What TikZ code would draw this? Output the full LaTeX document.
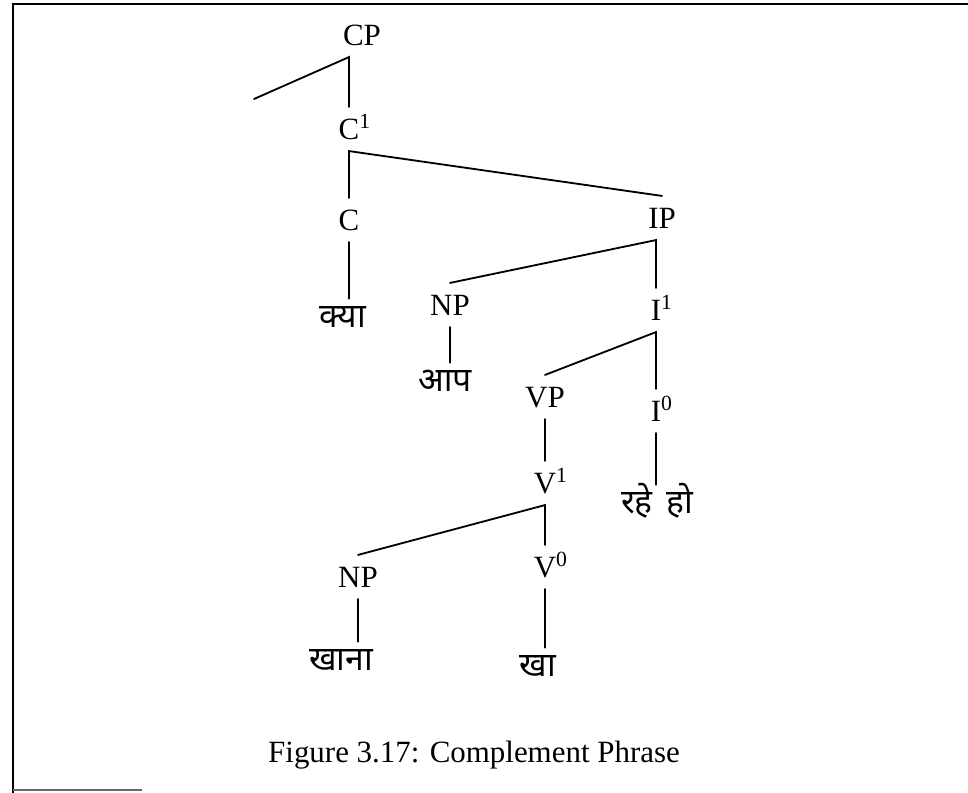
\documentclass[tikz,border=0pt]{standalone}
\usepackage{fontspec}
\setmainfont{Liberation Serif}
\newfontfamily\hindi[Script=Devanagari]{Noto Sans}
\begin{document}
\begin{tikzpicture}[
    x=0.025cm, y=-0.025cm,
    cat/.style={inner xsep=0pt, inner ysep=8pt, text height=15pt, text depth=0pt, font=\fontsize{22}{26}\selectfont},
    word/.style={inner xsep=0pt, inner ysep=5pt, text height=15pt, text depth=5pt, font=\fontsize{24}{28}\selectfont\hindi},
    branch/.style={line width=1.3pt, line cap=round},
    frame/.style={line width=2pt}
]
\useasboundingbox (0,0) rectangle (968,793);

% Frame
\draw[frame] (968,4) -- (13,4) -- (13,793);
\draw[line width=0.8pt, black!60] (13,790) -- (142,790);

% Nodes
\node[cat]  (cp)    at (362,35)  {CP};
\coordinate (spec)  at (254,99);
\node[cat]  (c1)    at (349,129) {C\rlap{\textsuperscript{1}}};
\node[cat]  (c)     at (349,220) {C};
\node[word] (kya)   at (343,320) {क्या};

\node[cat]  (ip)    at (662,218) {IP};
\node[cat]  (np)    at (450,305) {NP};
\node[word] (aap)   at (445,384) {आप};
\node[cat]  (i1)    at (656,310) {I\rlap{\textsuperscript{1}}};
\node[cat]  (i0)    at (656,411) {I\rlap{\textsuperscript{0}}};
\node[word] (rahe)  at (657,506) {रहे\hspace{0.4em}हो};

\node[cat]  (vp)    at (545,397) {VP};
\node[cat]  (v1)    at (545,483) {V\rlap{\textsuperscript{1}}};
\node[cat]  (v0)    at (545,567) {V\rlap{\textsuperscript{0}}};
\node[cat]  (np2)   at (358,577) {NP};
\node[word] (khana) at (341,663) {खाना};
\node[word] (kha)   at (538,669) {खा};

\node[font=\fontsize{22}{26}\selectfont] (caption) at (474,755) {Figure 3.17: Complement Phrase};

% Branches
\draw[branch] (spec) -- (cp.south -| c1) -- (c1.north);
\draw[branch] (c.north) -- (c1.south) -- (ip.north);
\draw[branch] (c.south) -- (kya.north -| c);
\draw[branch] (np.north) -- (ip.south -| i1) -- (i1.north);
\draw[branch] (np.south) -- (aap.north -| np);
\draw[branch] (vp.north) -- (i1.south) -- (i0.north);
\draw[branch] (i0.south) -- (rahe.north -| i0);
\draw[branch] (vp.south) -- (v1.north);
\draw[branch] (np2.north) -- (v1.south) -- (v0.north);
\draw[branch] (np2.south) -- (khana.north -| np2);
\draw[branch] (v0.south) -- (kha.north -| v0);

\end{tikzpicture}
\end{document}
